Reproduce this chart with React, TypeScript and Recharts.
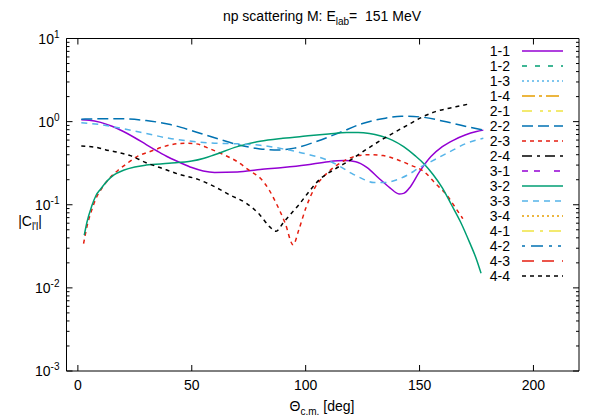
import { Line, LineChart, XAxis, YAxis } from "recharts";

const FONT = '"Liberation Sans", Arial, Helvetica, sans-serif';

// layout of the gnuplot frame
const PL = 66.5;
const PR = 579;
const PT = 38.5;
const PB = 371;

// |C_l'l| vs theta_cm (only the non-zero ones are visible)
const th11 = [1.5, 5, 10, 15, 20, 25, 30, 35, 40, 45, 50, 55, 60, 70, 80, 90, 100, 110, 117, 122, 127, 132, 137, 141, 143, 146, 150, 155, 160, 165, 170, 175, 178];
const c11 = [1.05, 1.04, 0.98, 0.88, 0.76, 0.64, 0.53, 0.44, 0.37, 0.32, 0.28, 0.255, 0.245, 0.248, 0.265, 0.28, 0.3, 0.33, 0.34, 0.33, 0.28, 0.21, 0.16, 0.135, 0.137, 0.165, 0.25, 0.38, 0.5, 0.6, 0.69, 0.76, 0.79];

const th22 = [1.5, 10, 20, 30, 40, 50, 60, 70, 80, 88, 95, 105, 115, 125, 135, 142, 150, 160, 170, 178];
const c22 = [1.07, 1.08, 1.08, 1.03, 0.93, 0.78, 0.64, 0.53, 0.47, 0.455, 0.48, 0.58, 0.74, 0.95, 1.1, 1.16, 1.14, 1.02, 0.88, 0.79];

const th23 = [2.5, 4, 6, 8, 10, 14, 18, 22, 26, 32, 40, 47, 52, 58, 64, 70, 76, 80, 84, 87, 91, 94.5, 97, 100, 104, 108, 113, 118, 123, 128, 134, 140, 146, 152, 157, 162, 166, 169];
const c23 = [0.034, 0.055, 0.085, 0.12, 0.15, 0.21, 0.265, 0.32, 0.38, 0.44, 0.52, 0.55, 0.54, 0.47, 0.4, 0.33, 0.25, 0.21, 0.15, 0.105, 0.06, 0.033, 0.05, 0.09, 0.16, 0.22, 0.29, 0.35, 0.39, 0.4, 0.39, 0.35, 0.3, 0.25, 0.18, 0.13, 0.09, 0.068];

const th32 = [2.8, 4, 6, 8, 10, 13, 16, 20, 25, 30, 40, 50, 55, 60, 70, 80, 90, 100, 110, 118, 123, 128, 133, 138, 143, 148, 152, 156, 160, 164, 168, 172, 175, 177];
const c32 = [0.043, 0.062, 0.095, 0.13, 0.155, 0.195, 0.23, 0.26, 0.285, 0.3, 0.315, 0.335, 0.36, 0.4, 0.5, 0.58, 0.63, 0.67, 0.71, 0.74, 0.74, 0.72, 0.67, 0.6, 0.5, 0.39, 0.31, 0.23, 0.16, 0.1, 0.062, 0.035, 0.022, 0.015];

const th33 = [1.5, 10, 20, 30, 40, 50, 60, 70, 80, 90, 100, 110, 115, 120, 125, 130, 135, 140, 145, 150, 155, 160, 165, 170, 175, 178];
const c33 = [0.97, 0.92, 0.82, 0.72, 0.63, 0.58, 0.55, 0.54, 0.52, 0.47, 0.41, 0.34, 0.29, 0.24, 0.205, 0.185, 0.185, 0.2, 0.23, 0.28, 0.33, 0.39, 0.46, 0.54, 0.6, 0.63];

const th44 = [1.5, 8, 12, 17, 23, 30, 36, 45, 52, 60, 67, 74, 80, 84, 87, 90, 93, 97, 102, 106, 113, 120, 127, 134, 140, 146, 151, 157, 163, 168, 172.5];
const c44 = [0.51, 0.49, 0.46, 0.43, 0.39, 0.32, 0.28, 0.23, 0.205, 0.165, 0.13, 0.104, 0.075, 0.055, 0.048, 0.06, 0.075, 0.1, 0.15, 0.2, 0.27, 0.35, 0.47, 0.62, 0.77, 0.95, 1.13, 1.32, 1.45, 1.55, 1.65];

// key entries (gnuplot order)
const keyLabels = ["1-1", "1-2", "1-3", "1-4", "2-1", "2-2", "2-3", "2-4", "3-1", "3-2", "3-3", "3-4", "4-1", "4-2", "4-3", "4-4"];
const keyColors = ["#9400d3", "#009e73", "#56b4e9", "#e69f00", "#f0e442", "#0072b2", "#e51e10", "#000000", "#9400d3", "#009e73", "#56b4e9", "#e69f00", "#f0e442", "#0072b2", "#e51e10", "#000000"];
const keyDash = ["", "5 8", "2 3", "13 4 3 4", "10 8 3 5 3 5", "11 5", "4 4", "10 5 3 5", "6 6 6 14", "", "6 5", "2 3", "12 6 3 6", "3 6 12 6 3 6", "12 8", "4 4"];

const xTicks = [0, 50, 100, 150, 200];
const yDecades = [0.001, 0.01, 0.1, 1, 10];
const yTicks: number[] = [];
yDecades.forEach((d, i) => {
  yTicks.push(d);
  if (i < yDecades.length - 1) for (let m = 2; m <= 9; m++) yTicks.push(d * m);
});

const toPts = (t: number[], v: number[]) => t.map((x, i) => ({ t: x, v: v[i] }));

const curves = [
  { key: "1-1", data: toPts(th11, c11) },
  { key: "2-2", data: toPts(th22, c22) },
  { key: "2-3", data: toPts(th23, c23) },
  { key: "3-2", data: toPts(th32, c32) },
  { key: "3-3", data: toPts(th33, c33) },
  { key: "4-4", data: toPts(th44, c44) },
];

const isMajor = (v: number) => yDecades.some((d) => Math.abs(v / d - 1) < 1e-6);

function LeftTick(props: any) {
  const { y, payload } = props;
  const major = isMajor(payload.value);
  const exp = Math.round(Math.log10(payload.value));
  return (
    <g>
      <line x1={PL} x2={PL + (major ? 6 : 3)} y1={y} y2={y} stroke="#000" />
      {major && (
        <text x={PL - 7} y={y + 5} textAnchor="end" fontSize={14} fontFamily={FONT} fill="#000">
          10<tspan dy={-6} fontSize={10}>{exp}</tspan>
        </text>
      )}
    </g>
  );
}

function RightTick(props: any) {
  const { y, payload } = props;
  const major = isMajor(payload.value);
  return <line x1={PR} x2={PR - (major ? 6 : 3)} y1={y} y2={y} stroke="#000" />;
}

function BottomTick(props: any) {
  const { x, payload } = props;
  return (
    <g>
      <line x1={x} x2={x} y1={PB} y2={PB - 6} stroke="#000" />
      <text x={x} y={PB + 19} textAnchor="middle" fontSize={14} fontFamily={FONT} fill="#000">
        {payload.value}
      </text>
    </g>
  );
}

function TopTick(props: any) {
  const { x } = props;
  return <line x1={x} x2={x} y1={PT} y2={PT + 6} stroke="#000" />;
}

export default function App() {
  return (
    <div style={{ position: "absolute", left: 0, top: 0, width: 600, height: 420, background: "#fff" }}>
      <LineChart width={600} height={420} margin={{ top: 0, right: 0, bottom: 0, left: 0 }}>
        <XAxis
          dataKey="t"
          type="number"
          domain={[-5, 220]}
          ticks={xTicks}
          interval={0}
          height={49}
          tickLine={false}
          tick={<BottomTick />}
          axisLine={{ stroke: "#000" }}
          allowDataOverflow
        />
        <XAxis
          xAxisId="top"
          orientation="top"
          dataKey="t"
          type="number"
          domain={[-5, 220]}
          ticks={xTicks}
          interval={0}
          height={PT}
          tickLine={false}
          tick={<TopTick />}
          axisLine={{ stroke: "#000" }}
          allowDataOverflow
        />
        <YAxis
          scale="log"
          domain={[0.001, 10]}
          ticks={yTicks}
          interval={0}
          width={PL}
          tickLine={false}
          tick={<LeftTick />}
          axisLine={{ stroke: "#000" }}
          allowDataOverflow
        />
        <YAxis
          yAxisId="right"
          orientation="right"
          scale="log"
          domain={[0.001, 10]}
          ticks={yTicks}
          interval={0}
          width={600 - PR}
          tickLine={false}
          tick={<RightTick />}
          axisLine={{ stroke: "#000" }}
          allowDataOverflow
        />
        {curves.map((c) => {
          const i = keyLabels.indexOf(c.key);
          return (
            <Line
              key={c.key}
              data={c.data}
              dataKey="v"
              type="monotone"
              stroke={keyColors[i]}
              strokeDasharray={keyDash[i] || undefined}
              strokeWidth={1.5}
              dot={false}
              activeDot={false}
              isAnimationActive={false}
            />
          );
        })}
      </LineChart>
      <svg width={600} height={420} style={{ position: "absolute", left: 0, top: 0, pointerEvents: "none" }}>
        <text x={322} y={21} textAnchor="middle" fontSize={14} fontFamily={FONT} fill="#000" xmlSpace="preserve">
          np scattering M: E<tspan dy={4} fontSize={10}>lab</tspan>
          <tspan dy={-4}>{"=\u00a0\u00a0151 MeV"}</tspan>
        </text>
        <text x={30} y={226} textAnchor="middle" fontSize={14} fontFamily={FONT} fill="#000">
          |C<tspan dy={4} fontSize={10}>l'l</tspan>
          <tspan dy={-4}>|</tspan>
        </text>
        <text x={322} y={411} textAnchor="middle" fontSize={14} fontFamily={FONT} fill="#000">
          Θ<tspan dy={4} fontSize={10}>c.m.</tspan>
          <tspan dy={-4}> [deg]</tspan>
        </text>
        {keyLabels.map((lab, i) => {
          const y = 51 + 15 * i;
          return (
            <g key={lab}>
              <text x={510} y={y + 5} textAnchor="end" fontSize={14} fontFamily={FONT} fill="#000">
                {lab}
              </text>
              <line x1={522} x2={563} y1={y} y2={y} stroke={keyColors[i]} strokeWidth={1.5} strokeDasharray={keyDash[i] || undefined} />
            </g>
          );
        })}
      </svg>
    </div>
  );
}
